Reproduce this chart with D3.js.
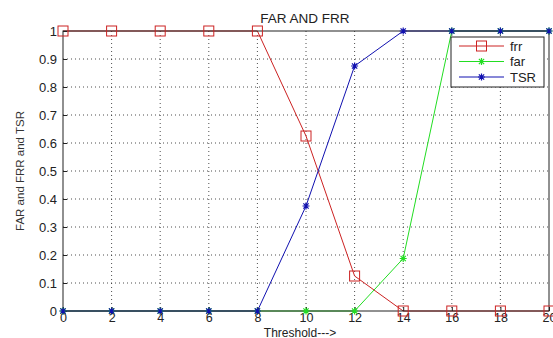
<!DOCTYPE html>
<html>
<head>
<meta charset="utf-8">
<script src="https://cdn.jsdelivr.net/npm/d3@7"></script>
<style>
  html, body { margin: 0; padding: 0; background: #fff; }
  svg { display: block; font-family: Arial, "Liberation Sans", sans-serif; }
</style>
</head>
<body>
<svg id="chart" width="553" height="338"></svg>
<script>
// Threshold sweep and the three rates measured at each step
const thresholds = [0, 2, 4, 6, 8, 10, 12, 14, 16, 18, 20];
const frr = [1, 1, 1, 1, 1, 0.625, 0.125, 0, 0, 0, 0];
const far = [0, 0, 0, 0, 0, 0, 0, 0.1875, 1, 1, 1];
const tsr = [0, 0, 0, 0, 0, 0.375, 0.875, 1, 1, 1, 1];
const xTicks = [0, 2, 4, 6, 8, 10, 12, 14, 16, 18, 20];
const yTicks = [0, 0.1, 0.2, 0.3, 0.4, 0.5, 0.6, 0.7, 0.8, 0.9, 1];

const seriesList = [
  { name: "frr", values: frr, color: "#cc2222", marker: "square" },
  { name: "far", values: far, color: "#22dd22", marker: "star" },
  { name: "TSR", values: tsr, color: "#1010b0", marker: "star" }
];

const svg = d3.select("#chart");
const plotLeft = 63, plotRight = 549, plotTop = 31, plotBottom = 311;
const ink = "#222";
const fontFamily = "Arial, 'Liberation Sans', sans-serif";

const x = d3.scaleLinear().domain([0, 20]).range([plotLeft, plotRight]);
const y = d3.scaleLinear().domain([0, 1]).range([plotBottom, plotTop]);

// dotted grid
const grid = svg.append("g").attr("stroke", ink).attr("stroke-width", 0.8)
  .attr("stroke-dasharray", "1,3");
grid.selectAll(".gx").data(xTicks.slice(1, -1)).join("line")
  .attr("x1", d => x(d)).attr("x2", d => x(d)).attr("y1", plotTop).attr("y2", plotBottom);
grid.selectAll(".gy").data(yTicks.slice(1, -1)).join("line")
  .attr("y1", d => y(d)).attr("y2", d => y(d)).attr("x1", plotLeft).attr("x2", plotRight);

// series lines
const line = d3.line().x((d, i) => x(thresholds[i])).y(d => y(d));
seriesList.forEach(s => {
  svg.append("path").datum(s.values)
    .attr("fill", "none").attr("stroke", s.color).attr("stroke-width", 1)
    .attr("d", line);
});

// axes box
svg.append("rect").attr("x", plotLeft).attr("y", plotTop)
  .attr("width", plotRight - plotLeft).attr("height", plotBottom - plotTop)
  .attr("fill", "none").attr("stroke", ink).attr("stroke-width", 1);

const xAxis = d3.axisBottom(x).tickValues(xTicks).tickFormat(d3.format("d"))
  .tickSizeInner(-4).tickSizeOuter(0).tickPadding(2);
const gx = svg.append("g").attr("transform", `translate(0,${plotBottom})`).call(xAxis);
gx.select(".domain").remove();
gx.selectAll("text").attr("font-size", 12.5).attr("fill", ink).attr("font-family", fontFamily);
gx.selectAll("line").attr("stroke", ink);

const yAxis = d3.axisLeft(y).tickValues(yTicks).tickFormat(d => d3.format("~g")(d))
  .tickSizeInner(-4).tickSizeOuter(0).tickPadding(6);
const gy = svg.append("g").attr("transform", `translate(${plotLeft},0)`).call(yAxis);
gy.select(".domain").remove();
gy.selectAll("text").attr("font-size", 13).attr("fill", ink).attr("font-family", fontFamily);
gy.selectAll("line").attr("stroke", ink);

// markers
function drawMarker(g, type, cx, cy, color) {
  if (type === "square") {
    g.append("rect").attr("x", cx - 5).attr("y", cy - 5)
      .attr("width", 10).attr("height", 10)
      .attr("fill", "none").attr("stroke", color).attr("stroke-width", 1);
  } else {
    const r = 3.5;
    const path = `M${cx - r},${cy}H${cx + r}M${cx},${cy - r}V${cy + r}` +
      `M${cx - r * 0.75},${cy - r * 0.75}L${cx + r * 0.75},${cy + r * 0.75}` +
      `M${cx - r * 0.75},${cy + r * 0.75}L${cx + r * 0.75},${cy - r * 0.75}`;
    g.append("path").attr("d", path).attr("stroke", color).attr("stroke-width", 1.2);
  }
}
seriesList.forEach(s => {
  const g = svg.append("g");
  s.values.forEach((v, i) => drawMarker(g, s.marker, x(thresholds[i]), y(v), s.color));
});

// title and labels
svg.append("text").attr("x", 305).attr("y", 23).attr("text-anchor", "middle")
  .attr("font-size", 13.5).attr("fill", ink).text("FAR AND FRR");
svg.append("text").attr("x", 300).attr("y", 336.5).attr("text-anchor", "middle")
  .attr("font-size", 12).attr("fill", ink).text("Threshold--->");
svg.append("text").attr("transform", `translate(24,${(plotTop + plotBottom) / 2}) rotate(-90)`)
  .attr("text-anchor", "middle").attr("font-size", 11.5).attr("fill", "#333")
  .text("FAR and FRR and TSR");

// legend
const lg = svg.append("g");
lg.append("rect").attr("x", 451).attr("y", 37).attr("width", 93).attr("height", 50)
  .attr("fill", "#fff").attr("stroke", ink).attr("stroke-width", 1);
seriesList.forEach((s, i) => {
  const ly = 46 + i * 15.5;
  lg.append("line").attr("x1", 459).attr("x2", 504).attr("y1", ly).attr("y2", ly)
    .attr("stroke", s.color).attr("stroke-width", 1);
  drawMarker(lg, s.marker, 481.5, ly, s.color);
  lg.append("text").attr("x", 510).attr("y", ly + 4.5).attr("font-size", 13)
    .attr("fill", ink).text(s.name);
});
</script>
</body>
</html>
